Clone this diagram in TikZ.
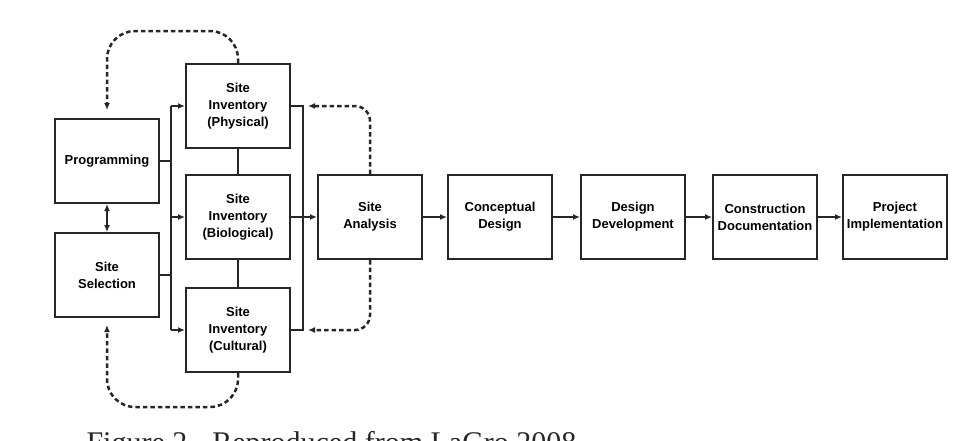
\documentclass[tikz,border=0pt]{standalone}
\usepackage{fontspec}
\setmainfont{Liberation Serif}
\newfontfamily\boxfont{Liberation Sans}
\usetikzlibrary{arrows.meta,positioning,calc}

\begin{document}
\begin{tikzpicture}[x=1pt,y=-1pt,
  stage/.style={draw=black!85,line width=2pt,minimum width=104pt,minimum height=84pt,
    inner sep=0pt,align=center,font=\boxfont\fontsize{13}{17}\selectfont\bfseries},
  link/.style={black!85,line width=1.9pt},
  flow/.style={link,-{Latex[length=7pt,width=6pt]}},
  feedback/.style={black!85,line width=2.5pt,dash pattern=on 4.5pt off 3pt,
    rounded corners=28pt,-{Latex[length=7pt,width=6pt]}}]
  \useasboundingbox (0,0) rectangle (972,440);
  \clip (0,0) rectangle (972,440);
  \fill[white] (0,0) rectangle (972,440);
  % Stages of the site planning process
  \node[stage] (prog) at (107,161) {Programming};
  \node[stage] (sel) at (107,275) {Site\\Selection};
  \node[stage] (phys) at (238,106) {Site\\Inventory\\(Physical)};
  \node[stage] (bio) at (238,217) {Site\\Inventory\\(Biological)};
  \node[stage] (cult) at (238,330) {Site\\Inventory\\(Cultural)};
  \node[stage] (ana) at (370,217) {Site\\Analysis};
  \node[stage] (con) at (500,217) {Conceptual\\Design};
  \node[stage] (dev) at (633,217) {Design\\Development};
  \node[stage] (doc) at (765,217) {Construction\\Documentation};
  \node[stage] (imp) at (895,217) {Project\\Implementation};
  \coordinate (lbus) at (171,0);
  \coordinate (rbus) at (303,0);
  \draw[link] (prog.east) -- (prog.east -| lbus);
  \draw[link] (sel.east) -- (sel.east -| lbus);
  \draw[link] (lbus |- phys.west) -- (lbus |- cult.west);
  \foreach \n in {phys,bio,cult}{
    \draw[flow] (lbus |- \n.west) -- (\n.west);
  }
  \draw[link] (phys.south) -- (bio.north) (bio.south) -- (cult.north);
  \draw[link] (phys.east) -- (rbus |- phys.east) -- (rbus |- cult.east) -- (cult.east);
  \draw[link,{Latex[length=7pt,width=6pt]}-{Latex[length=7pt,width=6pt]}] (prog.south) -- (sel.north);
  \draw[flow] (bio.east) -- (ana.west);
  \draw[flow] (ana.east) -- (con.west);
  \draw[flow] (con.east) -- (dev.west);
  \draw[flow] (dev.east) -- (doc.west);
  \draw[flow] (doc.east) -- (imp.west);
  % Feedback loops
  \draw[feedback,shorten >=8pt] (phys.north) -- ++(0,-32) -| (prog.north);
  \draw[feedback,shorten >=7pt] (cult.south) -- ++(0,34) -| (sel.south);
  \draw[feedback,rounded corners=15pt,shorten >=5pt] (ana.north) |- (rbus |- phys.east);
  \draw[feedback,rounded corners=15pt,shorten >=5pt] (ana.south) |- (rbus |- cult.east);
  \node[anchor=base west,font=\fontsize{30}{36}\selectfont,text=black!85] (caption) at (83,452)
    {Figure 2 - Reproduced from LaGro 2008};
\end{tikzpicture}
\end{document}
